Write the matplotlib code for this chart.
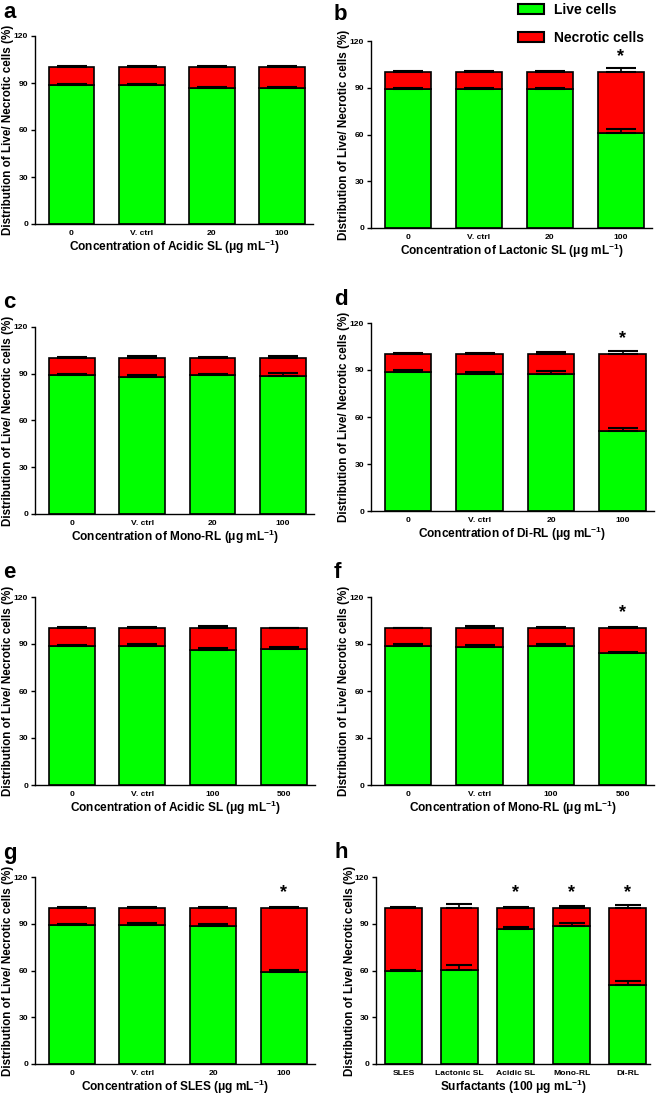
import numpy as np
import matplotlib
matplotlib.use("Agg")
import matplotlib.pyplot as plt
from matplotlib.patches import Patch

plt.rcParams['font.family'] = ['Liberation Sans', 'DejaVu Sans']
plt.rcParams['font.weight'] = 'bold'
plt.rcParams['mathtext.fontset'] = 'custom'
plt.rcParams['mathtext.rm'] = 'Liberation Sans:bold'
plt.rcParams['mathtext.bf'] = 'Liberation Sans:bold'
plt.rcParams['mathtext.it'] = 'Liberation Sans:bold'

W, H = 658, 1096

conc_std = ["0", "V. ctrl", "20", "100"]
conc_high = ["0", "V. ctrl", "100", "500"]
surfactants = ["SLES", "Lactonic SL", "Acidic SL", "Mono-RL", "Di-RL"]

# live cell % (mean), error of live, error of necrotic (top at 100)
a_live = [88.5, 88.8, 87.0, 86.7]
a_live_err = [0.8, 0.8, 0.6, 0.8]
a_nec_err = [0.8, 0.8, 0.6, 1.0]

b_live = [88.9, 89.3, 89.3, 60.8]
b_live_err = [0.8, 0.6, 0.6, 3.0]
b_nec_err = [0.8, 0.5, 0.5, 2.8]

c_live = [89.0, 88.1, 88.9, 88.5]
c_live_err = [0.8, 1.4, 0.9, 2.2]
c_nec_err = [0.6, 1.3, 0.6, 1.6]

d_live = [88.5, 87.7, 87.6, 50.8]
d_live_err = [1.2, 1.0, 2.0, 2.4]
d_nec_err = [0.7, 0.6, 1.4, 2.0]

e_live = [88.5, 88.9, 86.0, 87.0]
e_live_err = [1.0, 0.9, 1.3, 0.8]
e_nec_err = [0.7, 0.7, 1.3, 0.5]

f_live = [89.0, 88.1, 88.9, 84.0]
f_live_err = [1.0, 1.2, 0.9, 0.8]
f_nec_err = [0.5, 1.4, 0.6, 0.6]

g_live = [89.1, 89.5, 88.5, 59.3]
g_live_err = [0.8, 0.8, 1.3, 0.9]
g_nec_err = [0.6, 0.6, 1.0, 0.6]

h_live = [59.7, 60.6, 86.6, 88.5, 51.0]
h_live_err = [0.6, 3.2, 1.2, 1.8, 2.3]
h_nec_err = [0.5, 2.8, 0.6, 1.4, 2.0]

UNIT = " ($\\mathbf{\\mu}$g mL$^{\\mathbf{-1}}$)"
panels = [
    # letter, labels, live, live_err, nec_err, stars, xlabel, rect(px: left,right,top,bottom), letter pos
    ("a", conc_std, a_live, a_live_err, a_nec_err, [], "Concentration of Acidic SL" + UNIT, (35, 313, 36, 224), (3, 12)),
    ("b", conc_std, b_live, b_live_err, b_nec_err, [3], "Concentration of Lactonic SL" + UNIT, (371, 652, 41, 228), (334, 15)),
    ("c", conc_std, c_live, c_live_err, c_nec_err, [], "Concentration of Mono-RL" + UNIT, (35, 314, 327, 514), (3, 302)),
    ("d", conc_std, d_live, d_live_err, d_nec_err, [3], "Concentration of Di-RL" + UNIT, (371, 654, 323, 511), (334, 300)),
    ("e", conc_high, e_live, e_live_err, e_nec_err, [], "Concentration of Acidic SL" + UNIT, (35, 315, 597, 785), (3, 572)),
    ("f", conc_high, f_live, f_live_err, f_nec_err, [3], "Concentration of Mono-RL" + UNIT, (371, 654, 597, 785), (334, 572)),
    ("g", conc_std, g_live, g_live_err, g_nec_err, [3], "Concentration of SLES" + UNIT, (35, 315, 877, 1064), (3, 853)),
    ("h", surfactants, h_live, h_live_err, h_nec_err, [2, 3, 4], "Surfactants (100 $\\mathbf{\\mu}$g mL$^{\\mathbf{-1}}$)", (376, 650, 877, 1064), (334, 853)),
]

GREEN = "#00FF00"
RED = "#FF0000"

fig = plt.figure(figsize=(W / 100, H / 100), dpi=100)

for letter, labels, live, live_err, nec_err, stars, xlabel, rect, lpos in panels:
    l, r, t, b = rect
    ax = fig.add_axes([l / W, 1 - b / H, (r - l) / W, (b - t) / H])
    n = len(labels)
    x = np.arange(n)
    live = np.array(live)
    nec = 100 - live
    cap = 9.5 if n == 5 else 11
    ax.bar(x, live, 0.65, color=GREEN, edgecolor="black", linewidth=1.2, zorder=2)
    ax.bar(x, nec, 0.65, bottom=live, color=RED, edgecolor="black", linewidth=1.2, zorder=2)
    ax.errorbar(x, live, yerr=[np.zeros(n), live_err], fmt="none", ecolor="black",
                elinewidth=1.2, capsize=cap, capthick=1.5, zorder=3)
    ax.errorbar(x, live + nec, yerr=[np.zeros(n), nec_err], fmt="none", ecolor="black",
                elinewidth=1.2, capsize=cap, capthick=1.5, zorder=3)
    for s in stars:
        ax.text(x[s], 110, "*", ha="center", va="center", fontsize=13, fontweight="bold")
    ax.set_ylim(0, 120)
    if n == 5:
        ax.set_xlim(-0.49, 4.4)
    else:
        ax.set_xlim(-0.52, 3.44)
    ax.set_yticks([0, 30, 60, 90, 120])
    ax.set_xticks(x)
    ax.set_xticklabels(labels)
    ax.tick_params(axis="x", length=0, labelsize=6.1, pad=4)
    ax.tick_params(axis="y", length=3, width=1, labelsize=6.1, pad=2)
    for sp in ["top", "right"]:
        ax.spines[sp].set_visible(False)
    for sp in ["left", "bottom"]:
        ax.spines[sp].set_linewidth(1.0)
    ax.set_ylabel("Distribution of Live/ Necrotic cells (%)", fontsize=8.4, fontweight="bold")
    ax.yaxis.set_label_coords(-20.5 / (r - l), 0.5)
    ax.set_xlabel(xlabel, fontsize=8.6, fontweight="bold", labelpad=1)
    fig.text(lpos[0] / W, 1 - lpos[1] / H, letter, fontsize=16, fontweight="bold", ha="left", va="center")

handles = [Patch(facecolor=GREEN, edgecolor="black", linewidth=1.5),
           Patch(facecolor=RED, edgecolor="black", linewidth=1.5)]
fig.legend(handles, ["Live cells", "Necrotic cells"], loc="upper left",
           bbox_to_anchor=(508 / W, 1 + 7 / H), frameon=False,
           prop={"weight": "bold", "size": 10}, handlelength=1.9, handleheight=0.75,
           labelspacing=1.0, handletextpad=0.7, borderpad=0.2)

fig.savefig("out.png", dpi=100)
